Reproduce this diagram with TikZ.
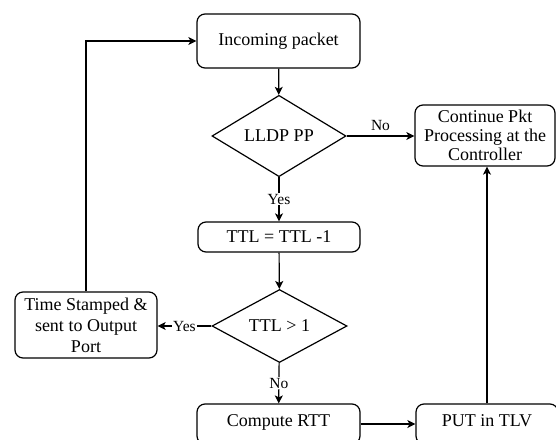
\documentclass[tikz,border=0pt]{standalone}
\usepackage{fontspec}
\setmainfont{Liberation Serif}
\usetikzlibrary{shapes.geometric,arrows.meta}
\begin{document}
\begin{tikzpicture}[x=1pt,y=-1pt,
  every node/.style={font=\fontsize{18}{20}\selectfont},
  box/.style={draw,rounded corners=8pt,line width=1.2pt,align=center,inner sep=0pt},
  decision/.style={draw,diamond,line width=1.2pt,inner sep=0pt},
  arr/.style={line width=1.2pt,-{Stealth[length=8pt,width=8pt,inset=2pt]}},
  lbl/.style={fill=white,inner sep=1pt,font=\fontsize{15.5}{17}\selectfont}]
\useasboundingbox (0,0) rectangle (556,439);
\clip (0,0) rectangle (556,439);

% process boxes
\node[box,minimum width=163pt,minimum height=54pt] (inc) at (278.5,41) {Incoming packet};
\node[box,minimum width=162pt,minimum height=30pt] (ttl) at (279,237) {TTL = TTL -1};
\node[box,minimum width=140pt,minimum height=61pt,font=\fontsize{18}{19}\selectfont] (cont) at (485,135.5)
  {Continue Pkt\\Processing at the\\Controller};
\node[box,minimum width=142pt,minimum height=66pt,font=\fontsize{18}{21}\selectfont] (ts) at (86,325)
  {Time Stamped \&\\sent to Output\\Port};
\node[box,minimum width=163pt,minimum height=40pt,text height=12pt,text depth=8pt] (rtt) at (278.5,424) {Compute RTT};
\node[box,minimum width=142pt,minimum height=40pt,text height=12pt,text depth=8pt] (put) at (487,424) {PUT in TLV};

% decisions
\node[decision,minimum width=134pt,minimum height=68pt] (lldp) at (279,136) {LLDP PP};
\node[decision,minimum width=135pt,minimum height=62pt] (ttlg) at (279.5,326) {TTL > 1};

% connectors
\draw[arr] (inc) -- (lldp);
\draw[arr] (lldp.east) -- node[midway,above,lbl,fill=none,yshift=4pt] {No} (lldp.east -| cont.west);
\draw[arr] (lldp) -- node[lbl] {Yes} (ttl);
\draw[arr] (ttl) -- (ttlg);
\draw[arr] (ttlg.west) -- node[lbl] {Yes} (ts.east |- ttlg.west);
\draw[arr] (ts.north) |- (inc.west);
\draw[arr] (ttlg) -- node[lbl] {No} (rtt);
\draw[arr] (rtt) -- (put);
\draw[arr] (put.north) -- (put.north |- cont.south);
\end{tikzpicture}
\end{document}
